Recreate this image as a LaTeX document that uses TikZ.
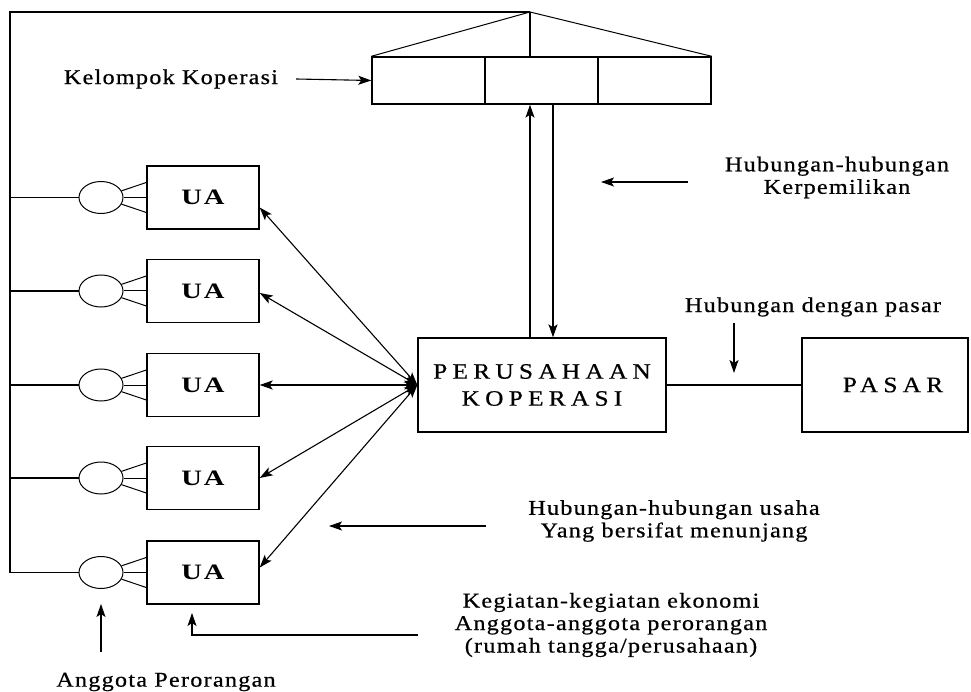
\documentclass[tikz,border=0pt]{standalone}
\usepackage{fontspec}
\setmainfont{Liberation Serif}[FakeStretch=1.15,LetterSpace=6,FakeBold=0.6]
\newfontfamily\capsfont{Liberation Serif}[FakeStretch=1.15,LetterSpace=24,FakeBold=0.6]
\newfontfamily\uafont{Liberation Serif}[FakeStretch=1.3,LetterSpace=8]
\usetikzlibrary{shapes.geometric,arrows.meta}

\tikzset{
  box/.style={draw,line width=1.4pt,inner sep=0pt},
  uabox/.style={box,minimum width=112pt,minimum height=63pt,font=\uafont\bfseries\fontsize{22}{24}\selectfont},
  bigbox/.style={box,minimum height=94pt,align=center,font=\capsfont\fontsize{22}{27}\selectfont},
  cell/.style={box,minimum width=113pt,minimum height=47pt},
  member/.style={draw,ellipse,line width=1pt,minimum width=44pt,minimum height=32pt,inner sep=0pt},
  note/.style={inner sep=0pt,align=center},
  arr/.style={-{Stealth[length=13pt,width=9pt,inset=3pt]},line width=1.1pt},
  duo/.style={{Stealth[length=13pt,width=9pt,inset=3pt]}-{Stealth[length=13pt,width=9pt,inset=3pt]},line width=1.1pt},
}

\begin{document}
\begin{tikzpicture}[x=1pt,y=-1pt,font=\fontsize{21}{22.5}\selectfont]
\useasboundingbox (0,0) rectangle (971,692);
% NODES
\node[cell] (kk1) at (428.5,80.5) {};
\node[cell] (kk2) at (541.5,80.5) {};
\node[cell] (kk3) at (654.5,80.5) {};
\coordinate (apex) at (530,12);
\coordinate (corner) at (10,12);
\node[note] (kelompok) at (171,79) {Kelompok Koperasi};

\node[bigbox,minimum width=248pt] (pk) at (542,385) {PERUSAHAAN\\KOPERASI};
\node[bigbox,minimum width=166pt] (pasar) at (885,385) {\hspace*{16pt}PASAR};

\node[member] (c1) at (101,197.5) {};
\node[member] (c2) at (101,291) {};
\node[member] (c3) at (101,385) {};
\node[member] (c4) at (101,478) {};
\node[member] (c5) at (101,572.5) {};

\node[uabox] (ua1) at (203,197.5) {UA};
\node[uabox] (ua2) at (203,291) {UA};
\node[uabox] (ua3) at (203,385) {UA};
\node[uabox] (ua4) at (203,478) {UA};
\node[uabox] (ua5) at (203,572.5) {UA};

\node[note] (hk) at (837,177.5) {Hubungan-hubungan\\Kerpemilikan};
\node[note] (hp) at (813,307) {Hubungan dengan pasar};
\node[note] (hu) at (674,521) {Hubungan-hubungan usaha\\Yang bersifat menunjang};
\node[note] (kg) at (611,625) {Kegiatan-kegiatan ekonomi\\Anggota-anggota perorangan\\(rumah tangga/perusahaan)};
\node[note] (ap) at (166,682) {Anggota Perorangan};

\coordinate (hkA) at (688,182);
\coordinate (hkB) at (601,182);
\coordinate (hpA) at (734,323);
\coordinate (hpB) at (734,373);
\coordinate (huA) at (486,526);
\coordinate (huB) at (329,526);
\coordinate (kgA) at (418,635);
\coordinate (kgB) at (192,613);
\coordinate (apA) at (101,652);
\coordinate (apB) at (101,604);
% CONNECTIONS
\draw[line width=1pt] (kk1.north west) -- (apex) -- (kk3.north east);
\draw[line width=1.4pt] (apex) -- (apex |- kk2.north);
\draw[line width=1.2pt] (apex) -- (corner) -- (corner |- c5.west) -- (c5.west);
\draw[line width=1.2pt] (corner |- c1.west) -- (c1.west);
\draw[line width=1.2pt] (corner |- c2.west) -- (c2.west);
\draw[line width=1.2pt] (corner |- c3.west) -- (c3.west);
\draw[line width=1.2pt] (corner |- c4.west) -- (c4.west);

\draw[line width=1pt] (c1.18) -- ([yshift=15pt]ua1.west);
\draw[line width=1pt] (c1.east) -- (ua1.west);
\draw[line width=1pt] (c1.-18) -- ([yshift=-15pt]ua1.west);
\draw[line width=1pt] (c2.18) -- ([yshift=15pt]ua2.west);
\draw[line width=1pt] (c2.east) -- (ua2.west);
\draw[line width=1pt] (c2.-18) -- ([yshift=-15pt]ua2.west);
\draw[line width=1pt] (c3.18) -- ([yshift=15pt]ua3.west);
\draw[line width=1pt] (c3.east) -- (ua3.west);
\draw[line width=1pt] (c3.-18) -- ([yshift=-15pt]ua3.west);
\draw[line width=1pt] (c4.18) -- ([yshift=15pt]ua4.west);
\draw[line width=1pt] (c4.east) -- (ua4.west);
\draw[line width=1pt] (c4.-18) -- ([yshift=-15pt]ua4.west);
\draw[line width=1pt] (c5.18) -- ([yshift=15pt]ua5.west);
\draw[line width=1pt] (c5.east) -- (ua5.west);
\draw[line width=1pt] (c5.-18) -- ([yshift=-15pt]ua5.west);

\draw[duo] (pk.west) -- (ua1.-10);
\draw[duo] (pk.west) -- (ua2.-2);
\draw[duo] (pk.west) -- (ua3.east);
\draw[duo] (pk.west) -- (ua4.east);
\draw[duo] (pk.west) -- (ua5.5);

\draw[arr] (apex |- pk.north) -- (apex |- kk2.south);
\draw[arr] ([xshift=11pt]pk.north |- kk2.south) -- ([xshift=11pt]pk.north);
\draw[line width=1.4pt] (pk) -- (pasar);

\draw[arr] ([xshift=18pt]kelompok.east) -- (kk1.west);
\draw[arr] (hkA) -- (hkB);
\draw[arr] (hpA) -- (hpB);
\draw[arr] (huA) -- (huB);
\draw[arr] (kgA) -| (kgB);
\draw[arr] (apA) -- (apB);
\end{tikzpicture}
\end{document}
